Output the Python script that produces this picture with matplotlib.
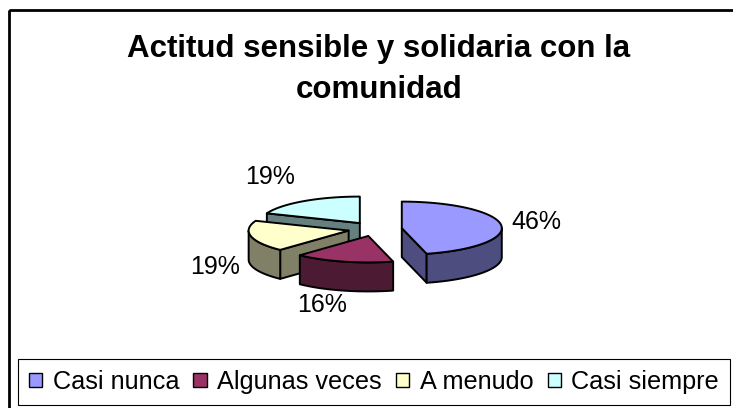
import numpy as np
import matplotlib
matplotlib.use('Agg')
import matplotlib.pyplot as plt
from matplotlib.patches import Polygon, Rectangle, Patch

# data
labels = ['Casi nunca', 'Algunas veces', 'A menudo', 'Casi siempre']
values = [46, 16, 19, 19]
pct_labels = ['46%', '16%', '19%', '19%']
top_colors = ['#9999FF', '#993366', '#FFFFCC', '#CCFFFF']
side_colors = ['#4D4D80', '#4D1A33', '#808066', '#668080']
title_lines = ['Actitud sensible y solidaria con la', 'comunidad']

plt.rcParams['font.family'] = ['Liberation Sans', 'DejaVu Sans']

fig = plt.figure(figsize=(7.33, 4.08), dpi=100)
ax = fig.add_axes([0, 0, 1, 1])
ax.set_xlim(0, 733)
ax.set_ylim(408, 0)
ax.axis('off')

# outer chart border
ax.add_patch(Rectangle((9, 10), 740, 410, fill=False, lw=2, edgecolor='black'))

# 3d pie layout (pixels)
cx, cy = 375, 229
rx, ry = 100, 26.5
depth = 29
explode = 0.27
lw = 1.4
# label offset from the slice rim at its middle angle
label_off = [(35, -3), (-21, 43), (-36, 31), (-34, -24)]

fracs = np.array(values, dtype=float) / sum(values)
ends = np.cumsum(fracs) * 360
starts = ends - fracs * 360
mids = (starts + ends) / 2


def rim(x0, y0, t):
    t = np.radians(t)
    return x0 + rx * np.sin(t), y0 - ry * np.cos(t)


order = np.argsort(-np.cos(np.radians(mids)))  # back to front
for i in order:
    s, e, m = starts[i], ends[i], mids[i]
    x0 = cx + explode * rx * np.sin(np.radians(m))
    y0 = cy - explode * ry * np.cos(np.radians(m))

    # visible cut faces
    for ang, vis in ((s, np.sin(np.radians(s)) < -1e-6), (e, np.sin(np.radians(e)) > 1e-6)):
        if not vis:
            continue
        px, py = rim(x0, y0, ang)
        quad = [(x0, y0), (px, py), (px, py + depth), (x0, y0 + depth)]
        ax.add_patch(Polygon(quad, closed=True, facecolor=side_colors[i],
                             edgecolor='black', lw=lw, joinstyle='round'))

    # outer wall, front half only
    a1, a2 = max(s, 90), min(e, 270)
    if a1 < a2:
        tw = np.linspace(a1, a2, 80)
        wx, wy = rim(x0, y0, tw)
        pts = list(zip(wx, wy)) + list(zip(wx[::-1], wy[::-1] + depth))
        ax.add_patch(Polygon(pts, closed=True, facecolor=side_colors[i],
                             edgecolor='black', lw=lw, joinstyle='round'))

    # top face
    t = np.linspace(s, e, 120)
    tx, ty = rim(x0, y0, t)
    pts = [(x0, y0)] + list(zip(tx, ty))
    ax.add_patch(Polygon(pts, closed=True, facecolor=top_colors[i],
                         edgecolor='black', lw=lw, joinstyle='round'))

    # data label
    lx, ly = rim(x0, y0, m)
    ax.text(lx + label_off[i][0], ly + label_off[i][1], pct_labels[i],
            fontsize=18, ha='center', va='center')

# title
ax.text(379, 57, title_lines[0], fontsize=22.5, fontweight='bold',
        ha='center', va='baseline')
ax.text(379, 98, title_lines[1], fontsize=22.5, fontweight='bold',
        ha='center', va='baseline')

# legend
handles = [Patch(facecolor=c, edgecolor='black', lw=1) for c in top_colors]
leg = fig.legend(handles, labels, ncol=4, loc='center',
                 bbox_to_anchor=(374 / 733, 1 - 382 / 408), fontsize=18.2,
                 handlelength=0.52, handleheight=0.52, handletextpad=0.42,
                 columnspacing=0.56, borderpad=0.45, borderaxespad=0,
                 fancybox=False, edgecolor='black', framealpha=1)
leg.get_frame().set_linewidth(0.8)

fig.savefig('out.png', dpi=100, facecolor='white')
